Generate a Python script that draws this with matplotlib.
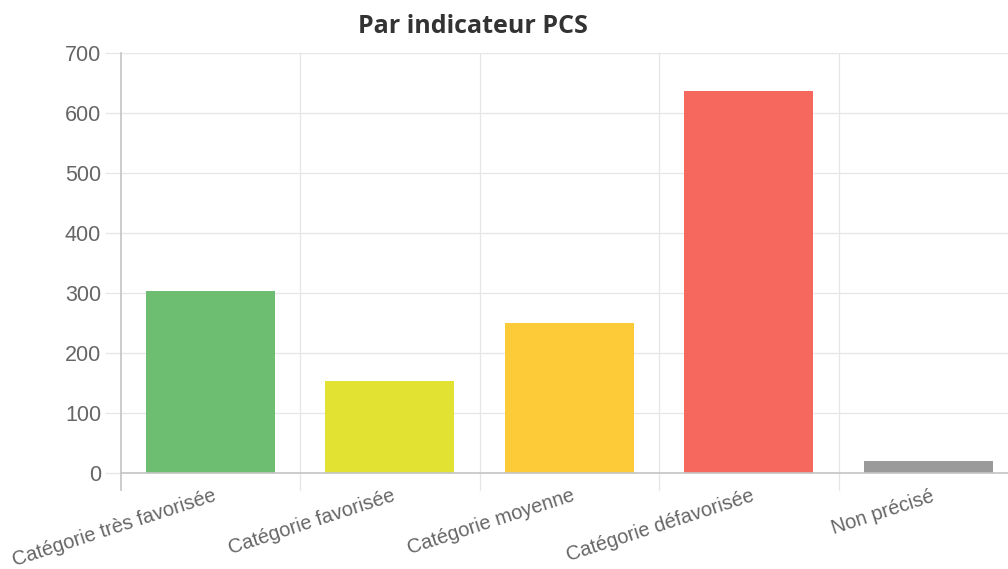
import matplotlib.pyplot as plt
from matplotlib.transforms import ScaledTranslation

# Données
CATEGORIES = ["Catégorie très favorisée", "Catégorie favorisée", "Catégorie moyenne",
              "Catégorie défavorisée", "Non précisé"]
VALEURS = [304, 153, 251, 636, 21]
COULEURS = ["#6dbe71", "#e2e232", "#fdca38", "#f6685e", "#9a9a9a"]
Y_TICKS = [0, 100, 200, 300, 400, 500, 600, 700]
TITRE = "Par indicateur PCS"

W, H = 1008, 569
GRILLE = "#e6e6e6"
AXE = "#c4c4c4"


def main():
    fig = plt.figure(figsize=(W / 100, H / 100), dpi=100)
    # zone de tracé : gauche 120.5 px, largeur 5 x 179.5 px (dépasse à droite)
    ax = fig.add_axes([120.5 / W, 95.7 / H, 897.5 / W, 420.3 / H])

    x = range(len(CATEGORIES))
    ax.bar(x, VALEURS, width=0.72, color=COULEURS, zorder=3)

    ax.set_xlim(-0.5, len(CATEGORIES) - 0.5)
    ax.set_ylim(0, 700)
    ax.set_yticks(Y_TICKS)
    ax.set_yticklabels([str(v) for v in Y_TICKS], fontsize=15.5, color="#666666",
                       family="Liberation Sans")

    # grilles horizontales
    for v in Y_TICKS[1:]:
        ax.axhline(v, color=GRILLE, lw=0.9, zorder=1)
    # grilles verticales aux limites de catégories, prolongées sous l'axe
    for b in range(1, len(CATEGORIES) + 1):
        ax.plot([b - 0.5, b - 0.5], [-28, 700], color=GRILLE, lw=0.9,
                zorder=1, clip_on=False)

    ax.set_xticks(list(x))
    ax.set_xticklabels(CATEGORIES, rotation=18, ha="right", rotation_mode="anchor",
                       fontsize=14.4, color="#666666", family="Liberation Sans")
    ax.tick_params(axis="x", length=0, pad=9.5)
    ax.tick_params(axis="y", length=11.5, color=GRILLE, width=0.9, pad=2.5)
    decal = ScaledTranslation(2 / 100, 0, fig.dpi_scale_trans)
    for lab in ax.get_xticklabels():
        lab.set_transform(lab.get_transform() + decal)

    for s in ["top", "right"]:
        ax.spines[s].set_visible(False)
    for s in ["left", "bottom"]:
        ax.spines[s].set_color(AXE)
        ax.spines[s].set_linewidth(1.2)
        ax.spines[s].set_zorder(4)
    ax.spines["left"].set_bounds(-28, 700)

    fig.text(473 / W, 1 - 33 / H, TITRE, ha="center", va="baseline",
             fontsize=18, fontweight="bold", color="#333333", family="Open Sans")

    fig.savefig("out.png", dpi=100)
    plt.close(fig)


if __name__ == "__main__":
    main()
